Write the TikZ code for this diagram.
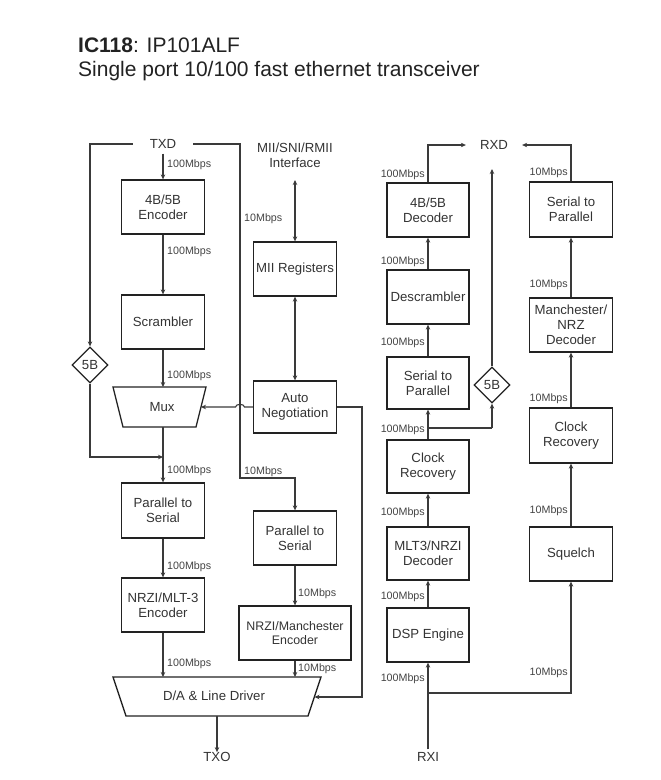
\documentclass[tikz,border=0pt]{standalone}
\usepackage{fontspec}
\setmainfont{Liberation Sans}
\usetikzlibrary{shapes.geometric,arrows.meta}
\definecolor{boxc}{HTML}{222222}
\definecolor{linec}{HTML}{3A3A3A}
\definecolor{txtc}{HTML}{333333}
\definecolor{lblc}{HTML}{444444}
\newcommand{\boxfont}{\fontsize{13.2}{15.2}\selectfont}
\newcommand{\lblfont}{\fontsize{10.7}{12}\selectfont}
\begin{document}
\begin{tikzpicture}[x=1pt,y=-1pt,
  box/.style={draw=boxc, line width=1.3pt, align=center, inner sep=0pt, font=\boxfont, text=txtc, minimum width=83pt, minimum height=54pt},
  txt/.style={align=center, inner sep=0pt, font=\boxfont, text=txtc},
  conn/.style={draw=linec, line width=1.1pt, -{Stealth[length=5pt,width=4.5pt]}},
  dconn/.style={draw=linec, line width=1.1pt, {Stealth[length=5pt,width=4.5pt]}-{Stealth[length=5pt,width=4.5pt]}},
  plain/.style={draw=linec, line width=1.1pt},
  lbl/.style={font=\lblfont, text=lblc, inner sep=0pt},
  dia/.style={diamond, draw=boxc, line width=1.3pt, minimum width=36pt, minimum height=36pt, inner sep=0pt, font=\boxfont, text=txtc},
  trap/.style={draw=boxc, line width=1.3pt}
]
\useasboundingbox (0,0) rectangle (661,780);

% title
\node[anchor=base west, inner sep=0pt, font=\fontsize{21}{24}\selectfont, text=boxc] (t1) at (78,52) {\textbf{IC118}: IP101ALF};
\node[anchor=base west, inner sep=0pt, font=\fontsize{21}{24}\selectfont, text=boxc] (t2) at (78,76) {Single port 10/100 fast ethernet transceiver};

% ---------- transmit side ----------
\node[txt, inner xsep=17pt, inner ysep=5pt] (txd) at (163,144) {TXD};
\node[box] (enc) at (163,207) {4B/5B\\Encoder};
\node[box] (scr) at (163,322) {Scrambler};
\draw[trap] (113,387) -- (206,387) -- (196,427) -- (123,427) -- cycle;
\node[txt] (mux) at (162,407) {Mux};
\coordinate (muxT) at (163,387);
\coordinate (muxB) at (163,427);
\coordinate (muxR) at (201,407);
\node[box, minimum height=55pt] (p2s1) at (163,510.5) {Parallel to\\Serial};
\node[box] (nrz1) at (163,605) {NRZI/MLT-3\\Encoder};
\draw[trap] (113,677) -- (321,677) -- (308,716) -- (126,716) -- cycle;
\node[txt] (da) at (214,696) {D/A \& Line Driver};
\coordinate (daL) at (163,677);
\coordinate (daM) at (295,677);
\coordinate (daR) at (314.5,697);
\coordinate (daB) at (217,716);
\node[txt] (txo) at (217,757) {TXO};

\node[dia] (fb1) at (90,365) {5B};

\node[txt] (mii) at (295,155) {MII/SNI/RMII\\Interface};
\coordinate (miiB) at (295,180);
\node[box] (reg) at (295,269) {MII Registers};
\node[box, minimum height=52pt] (auto) at (295,407) {Auto\\Negotiation};
\node[box] (p2s2) at (295,538) {Parallel to\\Serial};
\node[box, minimum width=112pt, font=\fontsize{12.4}{14.5}\selectfont] (nrz2) at (295,633) {NRZI/Manchester\\Encoder};

% connectors (transmit)
\draw[conn] (txd.south) -- (enc.north);
\draw[conn] (enc.south) -- (scr.north);
\draw[conn] (scr.south) -- (muxT);
\coordinate (j1) at (163,457);
\draw[conn] (muxB) -- (p2s1.north);
\draw[conn] (p2s1.south) -- (nrz1.north);
\draw[conn] (nrz1.south) -- (daL);
\draw[conn] (daB) -- (txo.north);
\draw[conn] (txd.west) -- (90,144) -- (fb1.north);
\draw[conn] (fb1.south) -- (90,457) -- (j1);
\draw[conn] (txd.east) -- (240,144) -- (240,478) -- (295,478) -- (p2s2.north);
\draw[conn] (p2s2.south) -- (nrz2.north);
\draw[conn] (nrz2.south) -- (daM);
\draw[dconn] (miiB) -- (reg.north);
\draw[dconn] (reg.south) -- (auto.north);
\draw[conn] (auto.west) -- (244.5,407) to[out=90,in=90] (235.5,407) -- (muxR);
\draw[conn] (auto.east) -- (362,407) -- (362,697) -- (daR);

% labels (transmit)
\node[lbl, anchor=west] (l1) at (167,165) {100Mbps};
\node[lbl, anchor=west] (l2) at (167,252) {100Mbps};
\node[lbl, anchor=west] (l3) at (167,376) {100Mbps};
\node[lbl, anchor=west] (l4) at (167,471) {100Mbps};
\node[lbl, anchor=west] (l5) at (167,567) {100Mbps};
\node[lbl, anchor=west] (l6) at (167,664) {100Mbps};
\node[lbl, anchor=west] (l7) at (244,219) {10Mbps};
\node[lbl, anchor=west] (l8) at (244,472) {10Mbps};
\node[lbl, anchor=west] (l9) at (298,594) {10Mbps};
\node[lbl, anchor=west] (l10) at (298,669) {10Mbps};

% ---------- receive side ----------
\node[txt, inner xsep=14pt] (rxd) at (494,145) {RXD};
\node[box, minimum width=82pt] (dec) at (428,210) {4B/5B\\Decoder};
\node[box, minimum width=82pt] (desc) at (428,297) {Descrambler};
\node[box, minimum width=82pt, minimum height=52pt] (s2p1) at (428,383) {Serial to\\Parallel};
\node[box, minimum width=82pt, minimum height=53pt] (clk1) at (428,466.5) {Clock\\Recovery};
\node[box, minimum width=82pt, minimum height=53pt] (mlt) at (428,553.5) {MLT3/NRZI\\Decoder};
\node[box, minimum width=82pt] (dsp) at (428,635) {DSP Engine};
\node[txt, inner ysep=3pt] (rxi) at (428,757) {RXI};
\node[dia] (fb2) at (492,385) {5B};
\coordinate (fb2T) at (492,169);

\node[box, minimum height=55pt] (s2p2) at (571,209.5) {Serial to\\Parallel};
\node[box] (man) at (571,325) {Manchester/\\NRZ\\Decoder};
\node[box, minimum height=55pt] (clk2) at (571,435.5) {Clock\\Recovery};
\node[box] (sq) at (571,554) {Squelch};

\coordinate (c1) at (428,693);
\coordinate (c2) at (428,428);

\draw[conn] (rxi.north) -- (dsp.south);
\draw[conn] (c1) -- (571,693) -- (sq.south);
\draw[conn] (dsp.north) -- (mlt.south);
\draw[conn] (mlt.north) -- (clk1.south);
\draw[conn] (clk1.north) -- (s2p1.south);
\draw[plain] (c2) -- (492,428);
\draw[conn] (492,428) -- (fb2.south);
\draw[conn] (fb2.north) -- (fb2T);
\draw[conn] (s2p1.north) -- (desc.south);
\draw[conn] (desc.north) -- (dec.south);
\draw[conn] (dec.north) |- (rxd.west);
\draw[conn] (sq.north) -- (clk2.south);
\draw[conn] (clk2.north) -- (man.south);
\draw[conn] (man.north) -- (s2p2.south);
\draw[conn] (s2p2.north) |- (rxd.east);

% labels (receive)
\node[lbl, anchor=east] (r1) at (425,175) {100Mbps};
\node[lbl, anchor=east] (r2) at (425,262) {100Mbps};
\node[lbl, anchor=east] (r3) at (425,343) {100Mbps};
\node[lbl, anchor=east] (r4) at (425,430) {100Mbps};
\node[lbl, anchor=east] (r5) at (425,513) {100Mbps};
\node[lbl, anchor=east] (r6) at (425,597) {100Mbps};
\node[lbl, anchor=east] (r7) at (425,679) {100Mbps};
\node[lbl, anchor=east] (s1) at (568,173) {10Mbps};
\node[lbl, anchor=east] (s2) at (568,285) {10Mbps};
\node[lbl, anchor=east] (s3) at (568,399) {10Mbps};
\node[lbl, anchor=east] (s4) at (568,511) {10Mbps};
\node[lbl, anchor=east] (s5) at (568,673) {10Mbps};
\end{tikzpicture}
\end{document}
